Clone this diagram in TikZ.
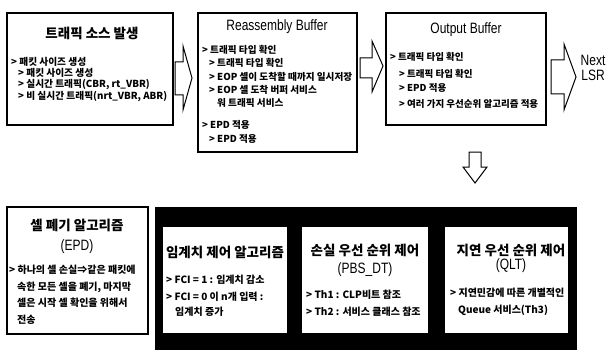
\documentclass[tikz,border=0pt]{standalone}
\usepackage{fontspec}
\setmainfont{Noto Sans CJK KR}
\newfontfamily\narrowfont[FakeStretch=0.8]{Liberation Sans}
\begin{document}
\begin{tikzpicture}[x=1pt,y=-1pt,
  box/.style={draw=black,line width=1.1pt,fill=white},
  wbox/.style={fill=white,draw=none},
  blockarrow/.style={draw=black,line width=1pt,fill=white,line join=miter},
  head/.style={inner sep=0pt,font=\fontsize{13.5}{15}\selectfont\bfseries},
  lhead/.style={inner sep=0pt,font=\fontsize{15}{17}\narrowfont},
  body/.style={inner sep=0pt,anchor=west,font=\fontsize{9.7}{12}\selectfont\bfseries},
  bodym/.style={inner sep=0pt,anchor=west,font=\fontsize{9.6}{12}\selectfont\bfseries},
  bodyo/.style={inner sep=0pt,anchor=west,font=\fontsize{9.5}{12}\selectfont\bfseries},
  bodyb/.style={inner sep=0pt,anchor=west,font=\fontsize{10}{12}\selectfont\bfseries}]
\useasboundingbox (0,0) rectangle (607,350);
% ---- top row boxes
\draw[box] (7,13) rectangle (173,125);
\node[head] (h1) at (92,33) {트래픽 소스 발생};
\node[body] (t11) at (11,62) {> 패킷 사이즈 생성};
\node[body] (t12) at (18,73) {> 패킷 사이즈 생성};
\node[body] (t13) at (18,85) {> 실시간 트래픽(CBR, rt\_VBR)};
\node[body] (t14) at (18,97) {> 비 실시간 트래픽(nrt\_VBR, ABR)};

\draw[box] (198,13) rectangle (357,152);
\node[lhead] (h2) at (277,27) {Reassembly Buffer};
\node[bodym] (t21) at (202,50) {> 트래픽 타입 확인};
\node[bodym] (t22) at (209,63) {> 트래픽 타입 확인};
\node[bodym] (t23) at (209,77) {> EOP 셀이 도착할 때까지 일시저장};
\node[bodym] (t24) at (209,90) {> EOP 셀 도착 버퍼 서비스};
\node[bodym] (t25) at (217,103) {워 트래픽 서비스};
\node[bodym] (t26) at (202,125) {> EPD 적용};
\node[bodym] (t27) at (209,139) {> EPD 적용};

\draw[box] (386,13) rectangle (546,125);
\node[lhead] (h3) at (466,30) {Output Buffer};
\node[bodyo] (t31) at (390,57) {> 트래픽 타입 확인};
\node[bodyo] (t32) at (399,74) {> 트래픽 타입 확인};
\node[bodyo] (t33) at (399,88) {> EPD 적용};
\node[bodyo] (t34) at (399,104) {> 여러 가지 우선순위 알고리즘 적용};

\node[lhead,align=center] (nx) at (593,68) {Next\\[-2pt]LSR};

% ---- block arrows
\draw[blockarrow] (175,62) -- (183,62) -- (183,46) -- (192,78) -- (183,110) -- (183,95) -- (175,95) -- cycle;
\draw[blockarrow] (360,58) -- (372,58) -- (372,41) -- (383,66) -- (372,92) -- (372,78) -- (360,78) -- cycle;
\draw[blockarrow] (551,60) -- (564,60) -- (564,44) -- (576,77) -- (564,110) -- (564,94) -- (551,94) -- cycle;
\draw[blockarrow] (469,152) -- (481,152) -- (481,167) -- (487,167) -- (475,183) -- (463,167) -- (469,167) -- cycle;

% ---- bottom left box
\draw[box] (7,207) rectangle (148,334);
\node[head] (h4) at (77,225) {셀 폐기 알고리즘};
\node[lhead] (h4b) at (77,247) {(EPD)};
\node[bodyb] (t41) at (9,270) {> 하나의 셀 손실⇒같은 패킷에};
\node[bodyb] (t42) at (17,287) {속한 모든 셀을 폐기, 마지막};
\node[bodyb] (t43) at (17,303) {셀은 시작 셀 확인을 위해서};
\node[bodyb] (t44) at (17,320) {전송};

% ---- black frame with three boxes
\fill[black] (155,207) rectangle (577,350);
\fill[wbox] (163,227) rectangle (287,333);
\fill[wbox] (302,227) rectangle (428,333);
\fill[wbox] (445,227) rectangle (568,333);

\node[head] (h5) at (225,252) {임계치 제어 알고리즘};
\node[bodyb] (t51) at (166,280) {> FCI = 1 : 임계치 감소};
\node[bodyb] (t52) at (166,297) {> FCI = 0 이 n개 입력 :};
\node[bodyb] (t53) at (175,312) {임계치 증가};

\node[head] (h6) at (365,250) {손실 우선 순위 제어};
\node[lhead] (h6b) at (365,270) {(PBS\_DT)};
\node[bodyb] (t61) at (306,295) {> Th1 : CLP비트 참조};
\node[bodyb] (t62) at (306,312) {> Th2 : 서비스 클래스 참조};

\node[head] (h7) at (511,250) {지연 우선 순위 제어};
\node[lhead] (h7b) at (511,266) {(QLT)};
\node[bodyb] (t71) at (450,293) {> 지연민감에 따른 개별적인};
\node[bodyb] (t72) at (458,310) {Queue 서비스(Th3)};
\end{tikzpicture}
\end{document}
